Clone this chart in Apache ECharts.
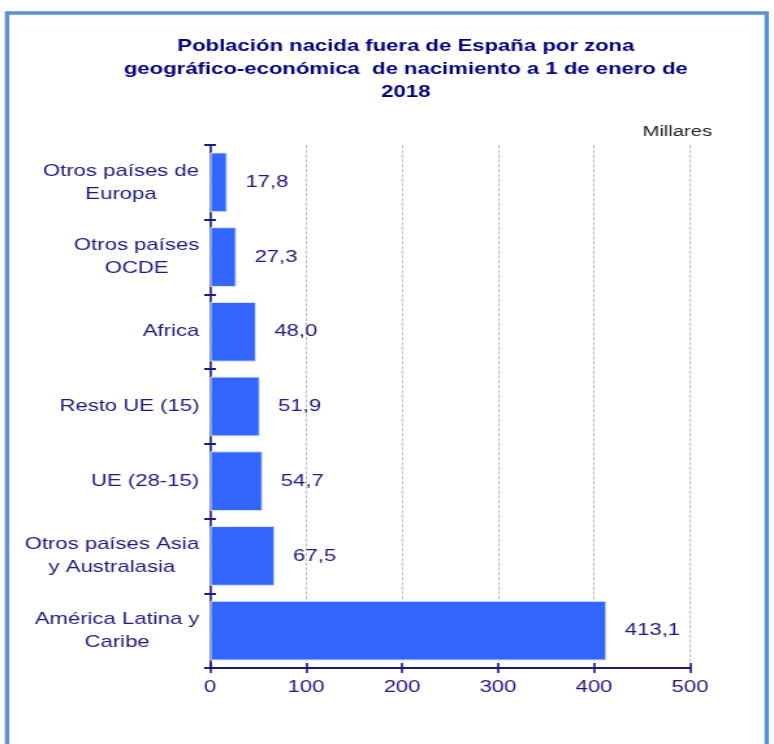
<!DOCTYPE html>
<html>
<head>
<meta charset="utf-8">
<script src="https://cdn.jsdelivr.net/npm/echarts@6/dist/echarts.min.js"></script>
<style>
  html, body { margin: 0; padding: 0; background: #fff; overflow: hidden; }
  /* the source picture is stretched sideways, so draw narrow and widen */
  #chart { width: 595px; height: 744px; transform: scaleX(1.3008); transform-origin: 0 0; }
</style>
</head>
<body>
<div id="chart"></div>
<script>
const zonas = [
    "Otros países de\nEuropa",
    "Otros países\nOCDE",
    "Africa",
    "Resto UE (15)",
    "UE (28-15)",
    "Otros países Asia\ny Australasia",
    "América Latina y\nCaribe"
];
const millares = [17.8, 27.3, 48.0, 51.9, 54.7, 67.5, 413.1];
const xTicks = [0, 100, 200, 300, 400, 500];

const navy = "#1a1a80";
const font = "Liberation Sans, Arial, sans-serif";

// lines of each category label are centred on each other, the block is right aligned
const ctx = document.createElement("canvas").getContext("2d");
ctx.font = "17px " + font;
const labelRich = {};
zonas.forEach((z, i) => {
    const w = Math.max(...z.split("\n").map((l) => ctx.measureText(l).width));
    labelRich["c" + i] = { width: Math.ceil(w), align: "center", color: navy, fontSize: 17, lineHeight: 23 };
});

const chart = echarts.init(document.getElementById("chart"));
chart.setOption({
    animation: false,
    textStyle: { fontFamily: font },
    title: {
        text: "Población nacida fuera de España por zona\ngeográfico-económica  de nacimiento a 1 de enero de\n2018",
        left: 307,
        top: 30,
        textAlign: "center",
        textStyle: { color: "#000080", fontSize: 17, fontWeight: "bold", lineHeight: 23, fontFamily: font }
    },
    graphic: [
        {
            type: "rect",
            shape: { x: 5.4, y: 13, width: 584, height: 760 },
            style: { fill: null, stroke: "#5b8fd6", lineWidth: 3.4 }
        },
        {
            type: "text",
            left: 494,
            top: 124,
            style: { text: "Millares", fill: "#222", fontSize: 15.5, fontFamily: font }
        }
    ],
    grid: { left: 161.5, right: 64.6, top: 145, bottom: 76 },
    xAxis: [{
        type: "value",
        min: xTicks[0],
        max: xTicks[xTicks.length - 1],
        interval: 100,
        axisLine: { show: true, lineStyle: { color: navy, width: 2 } },
        axisTick: { show: true, length: 5, lineStyle: { color: navy, width: 1.6 } },
        axisLabel: { color: navy, fontSize: 17, margin: 11 },
        splitLine: { show: true, lineStyle: { color: "#aaa", type: "dashed", width: 0.8 } }
    }, {
        // inner half of the crossing ticks
        type: "value",
        position: "bottom",
        min: xTicks[0],
        max: xTicks[xTicks.length - 1],
        interval: 100,
        axisLine: { show: false },
        axisTick: { show: true, inside: true, length: 5, lineStyle: { color: navy, width: 1.6 } },
        axisLabel: { show: false },
        splitLine: { show: false }
    }],
    yAxis: [{
        type: "category",
        inverse: true,
        data: zonas,
        axisLine: { show: true, lineStyle: { color: navy, width: 1.6 } },
        axisTick: { show: true, length: 4.5, lineStyle: { color: navy, width: 2 } },
        axisLabel: {
            color: navy,
            fontSize: 17,
            margin: 8,
            lineHeight: 23,
            align: "right",
            formatter: (v, i) => v.split("\n").map((l) => "{c" + i + "|" + l + "}").join("\n"),
            rich: labelRich
        },
        splitLine: { show: false }
    }, {
        type: "category",
        position: "left",
        inverse: true,
        data: zonas,
        axisLine: { show: false },
        axisTick: { show: true, inside: true, length: 4.5, lineStyle: { color: navy, width: 2 } },
        axisLabel: { show: false },
        splitLine: { show: false }
    }],
    series: [{
        type: "bar",
        data: millares,
        barCategoryGap: "20%",
        itemStyle: { color: "#3366ff", borderColor: "#dfe6ff", borderWidth: 1 },
        label: {
            show: true,
            position: "right",
            distance: 14,
            color: navy,
            fontSize: 17,
            formatter: (p) => p.value.toFixed(1).replace(".", ",")
        }
    }]
});
</script>
</body>
</html>
